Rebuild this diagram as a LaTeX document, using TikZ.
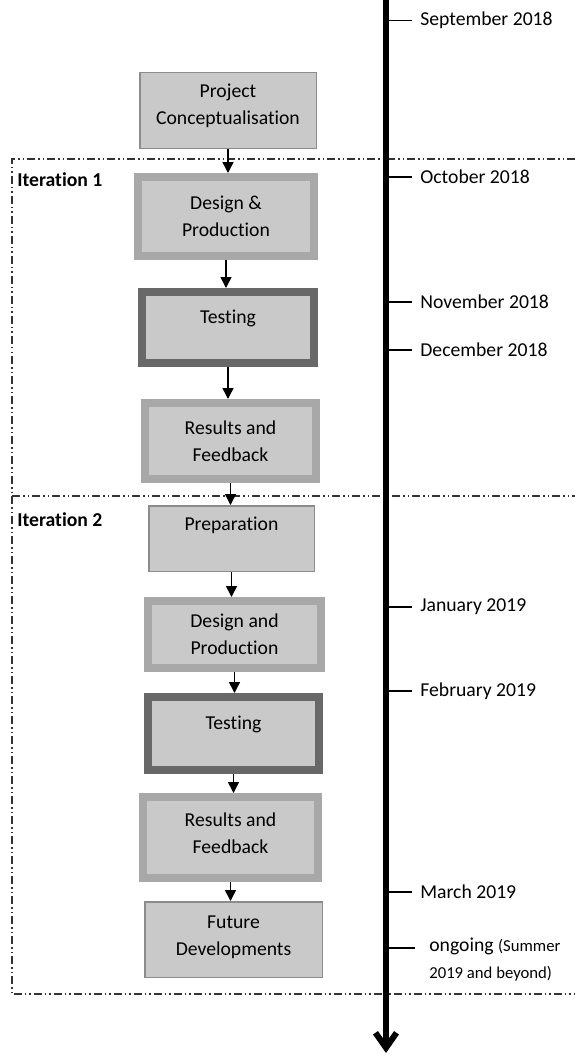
\documentclass[tikz,border=0pt]{standalone}
\usepackage{fontspec}
\setmainfont{Carlito}[Ligatures=CommonOff]
\usetikzlibrary{arrows.meta}
\newlength{\pxu}
\setlength{\pxu}{0.2mm}
\definecolor{boxfill}{HTML}{C9C9C9}
\definecolor{midrim}{HTML}{A8A8A8}
\definecolor{darkrim}{HTML}{686868}
\definecolor{thinrim}{HTML}{8C8C8C}
\tikzset{
  stage/.style={fill=boxfill, align=center, inner sep=0pt, font=\fontsize{11.2}{15.4}\selectfont},
  plainstage/.style={stage, draw=thinrim, line width=1.5\pxu},
  widestage/.style={stage, draw=midrim, line width=8\pxu},
  heavystage/.style={stage, draw=darkrim, line width=8\pxu},
  liftby/.style={text depth=#1\pxu},
  flow/.style={line width=0.3mm, -{Triangle[length=2.2mm,width=2.2mm]}},
  month/.style={anchor=west, inner sep=0pt, font=\fontsize{11.2}{15.4}\selectfont},
  tick/.style={line width=1.5\pxu},
  itlabel/.style={anchor=west, inner sep=0pt, font=\bfseries\fontsize{11.2}{15.4}\selectfont},
  frame/.style={line width=1.2\pxu, draw=black!80, dash pattern=on 8\pxu off 3\pxu on 1.5\pxu off 3\pxu on 1.5\pxu off 3\pxu}
}
\begin{document}
\begin{tikzpicture}[x=0.2mm, y=-0.2mm]
    \useasboundingbox (0,0) rectangle (575,1055);
    % iteration frames
    \draw[frame] (575,159) -- (12,159) -- (12,994) -- (575,994);
    \draw[frame] (12,496) -- (575,496);
    \node[itlabel] at (17,180) (it1) {Iteration 1};
    \node[itlabel] at (17,520) (it2) {Iteration 2};
    % stages
    \node[plainstage, liftby=12, minimum width=176.5\pxu, minimum height=75.5\pxu] at (228,110.5) (concept) {Project\\Conceptualisation};
    \node[widestage, minimum width=176\pxu, minimum height=79\pxu] at (226,216.5) (design1) {Design \&\\Production};
    \node[heavystage, liftby=22, minimum width=172\pxu, minimum height=71\pxu] at (228,327.5) (test1) {Testing};
    \node[widestage, minimum width=171\pxu, minimum height=76\pxu] at (230.5,441) (result1) {Results and\\Feedback};
    \node[plainstage, liftby=29, minimum width=165.5\pxu, minimum height=65.5\pxu] at (231.5,538.5) (prep) {Preparation};
    \node[widestage, minimum width=173\pxu, minimum height=67\pxu] at (234.5,634.5) (design2) {Design and\\Production};
    \node[heavystage, liftby=22.5, minimum width=171\pxu, minimum height=73\pxu] at (233.5,733.5) (test2) {Testing};
    \node[widestage, liftby=8, minimum width=175\pxu, minimum height=81\pxu] at (230.5,837.5) (result2) {Results and\\Feedback};
    \node[plainstage, liftby=8, minimum width=177.5\pxu, minimum height=75.5\pxu] at (233.5,939.5) (future) {Future\\Developments};
    % flow arrows
    \draw[flow] (concept.south) -- (concept.south |- design1.north);
    \draw[flow] (design1.south) -- (design1.south |- test1.north);
    \draw[flow] (test1.south) -- (test1.south |- result1.north);
    \draw[flow] (result1.south) -- (result1.south |- prep.north);
    \draw[flow] (prep.south) -- (prep.south |- design2.north);
    \draw[flow] (design2.south) -- (design2.south |- test2.north);
    \draw[flow] (test2.south) -- (test2.south |- result2.north);
    \draw[flow] (result2.south) -- (result2.south |- future.north);
    % timeline
    \coordinate (top) at (386,0);
    \coordinate (bottom) at (386,1053);
    \draw[line width=6\pxu, -{Straight Barb[length=3mm,width=4.2mm]}] (top) -- (bottom);
    \foreach \y/\name/\txt in {20.7/sep18/September 2018, 177/oct18/October 2018, 302/nov18/November 2018, 350/dec18/December 2018, 607/jan19/January 2019, 691/feb19/February 2019, 892/mar19/March 2019}{
        \node[month] at (420,\y) (\name) {\txt};
        \draw[tick] (top |- \name.west) -- ([xshift=-8\pxu]\name.west);
    }
    \node[month, align=left] at (429,960) (ongoing) {ongoing {\fontsize{9.5}{13}\selectfont (Summer}\\{\fontsize{9.5}{13}\selectfont 2019 and beyond)}};
    \coordinate (ongoingtick) at (415,948);
    \draw[tick] (top |- ongoingtick) -- (ongoingtick);
\end{tikzpicture}
\end{document}
